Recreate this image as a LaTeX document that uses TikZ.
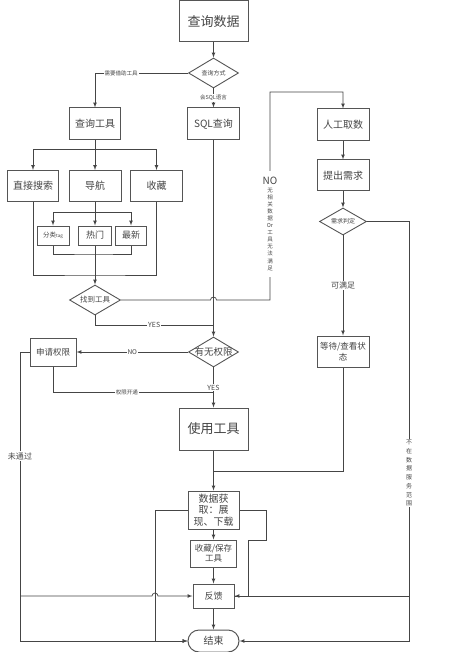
\documentclass[tikz,border=0pt]{standalone}
\usepackage{fontspec}
\setmainfont{Noto Sans CJK SC}
\usepackage{tikz}
\usetikzlibrary{shapes.geometric}
\usetikzlibrary{arrows}
\usetikzlibrary{calc}
\definecolor{ink}{HTML}{454545}
\definecolor{rim}{HTML}{555555}
\newcommand{\fsz}[1]{\fontsize{#1}{#1}\selectfont}
\tikzstyle{every node}=[text=ink]
\tikzstyle{box}=[draw=rim, line width=1pt, fill=white, inner sep=0pt, align=center]
\tikzstyle{choice}=[diamond, aspect=1.7, draw=rim, line width=0.9pt, fill=white, inner sep=-6pt, align=center]
\tikzstyle{line}=[draw=ink, line width=0.7pt]
\tikzstyle{lab}=[fill=white, inner sep=1pt, font=\fsz{5.5}]

\begin{document}
\begin{tikzpicture}[>=latex, x=1pt, y=-1pt]
            \useasboundingbox (0,0) rectangle (460,652);

            \node [box, minimum width=69, minimum height=41, font=\fsz{13}] (shuju) at (213.5,21.5) {查询数据};
            \node [choice, minimum width=50, minimum height=30, font=\fsz{6}] (fangshi) at (213.5,73) {查询方式};
            \node [box, minimum width=51, minimum height=32, font=\fsz{10}] (gongju) at (95,124) {查询工具};
            \node [box, minimum width=52, minimum height=32, font=\fsz{10}] (sql) at (213.5,124) {SQL查询};
            \node [box, minimum width=52, minimum height=32, font=\fsz{10}] (rengong) at (343,125) {人工取数};

            \node [box, minimum width=51, minimum height=31, font=\fsz{10}] (sousuo) at (33,186) {直接搜索};
            \node [box, minimum width=52, minimum height=31, font=\fsz{10}] (daohang) at (95,186) {导航};
            \node [box, minimum width=52, minimum height=31, font=\fsz{10}] (shoucang) at (156.5,186) {收藏};

            \node [box, minimum width=32, minimum height=19, font=\fsz{6.5}] (fenlei) at (53,235.5) {分类{\fsz{4.5}tag}};
            \node [box, minimum width=33, minimum height=19, font=\fsz{9}] (remen) at (95,235.5) {热门};
            \node [box, minimum width=31, minimum height=19, font=\fsz{9}] (zuixin) at (131,235.5) {最新};

            \node [choice, minimum width=51, minimum height=30, font=\fsz{7.5}] (zhaodao) at (95,300) {找到工具};

            \node [box, minimum width=52, minimum height=31, font=\fsz{10}] (xuqiu) at (343,175.5) {提出需求};
            \node [choice, minimum width=47, minimum height=27, font=\fsz{6}] (panding) at (343,221.5) {需求判定};
            \node [box, minimum width=52, minimum height=31, font=\fontsize{8.5}{11}\selectfont] (dengdai) at (343,351.5) {等待/查看状\\态};

            \node [choice, minimum width=50, minimum height=30, font=\fsz{9.5}] (quanxian) at (213.5,352) {有无权限};
            \node [box, minimum width=46, minimum height=28, font=\fsz{8.5}] (shenqing) at (53,352) {申请权限};

            \node [box, minimum width=69, minimum height=42, font=\fsz{13}] (shiyong) at (213.5,429) {使用工具};
            \node [box, minimum width=51, minimum height=38, font=\fontsize{10}{11.5}\selectfont] (huoqu) at (213.5,510) {数据获\\取：展\\现、下载};
            \node [box, minimum width=46, minimum height=27, font=\fontsize{8.5}{10.5}\selectfont] (baocun) at (213.5,553.5) {收藏/保存\\工具};
            \node [box, minimum width=41, minimum height=24, font=\fsz{9}] (fankui) at (213.5,596) {反馈};
            \node [box, minimum width=51, minimum height=22, rounded corners=11, font=\fsz{10}] (jieshu) at (213.5,641) {结束};

            \coordinate (fork1) at (95,149);
            \coordinate (fork2) at (95,212);
            \coordinate (join2) at (95,254);
            \coordinate (join1) at (95,275);
            \coordinate (noturn) at (270,92);
            \coordinate (yesjoin) at (213.5,325);
            \coordinate (pass) at (213.5,392);
            \coordinate (leftrail) at (20,352);
            \coordinate (rightrail) at (409,221.5);
            \coordinate (merge) at (213.5,471);
            \coordinate (lrail2) at (155,510);
            \coordinate (rloop) at (266,510);

            \draw [line, ->] (shuju) -- (fangshi);
            \draw [line, ->] (fangshi.west) -| node[lab, pos=0.36] {需要借助工具} (gongju.north);
            \draw [line, ->] (fangshi.south) -- node[lab] {会SQL语言} (sql.north);

            \draw [line] (gongju.south) -- (fork1);
            \draw [line, ->] (fork1) -| (sousuo.north);
            \draw [line, ->] (fork1) -| (shoucang.north);
            \draw [line, ->] (fork1) -- (daohang.north);
            \draw [line] (daohang.south) -- (fork2);
            \draw [line, ->] (fork2) -| (fenlei.north);
            \draw [line, ->] (fork2) -| (zuixin.north);
            \draw [line, ->] (fork2) -- (remen.north);
            \draw [line] (fenlei.south) |- (join2) -| (zuixin.south);
            \draw [line] (sousuo.south) |- (join1) -| (shoucang.south);
            \draw [line, ->] (remen.south) -- (zhaodao.north);

            \draw [line, ->] (zhaodao.east) -- ($(yesjoin |- zhaodao.east)+(-3,0)$) arc[start angle=180, end angle=360, radius=3] -- (noturn |- zhaodao.east) -- (noturn) -| (rengong.north);
            \node [lab, align=center, inner ysep=6pt, font=\fontsize{5.5}{7.1}\selectfont] (nolab) at (270,224) {{\fsz{10}NO}\\无\\相\\关\\数\\据\\Or\\工\\具\\无\\法\\满\\足};
            \draw [line] (zhaodao.south) |- node[lab, pos=0.75, font=\fsz{7}] {YES} (yesjoin);

            \draw [line, ->] (sql.south) -- (quanxian.north);
            \draw [line, ->] (quanxian.west) -- node[lab, font=\fsz{6.5}] {NO} (shenqing.east);
            \draw [line] (shenqing.south) |- node[lab, pos=0.73] {权限开通} (pass);
            \draw [line, ->] (quanxian.south) -- node[lab, font=\fsz{7}] {YES} (shiyong.north);

            \draw [line, ->] (shenqing.west) -- (leftrail) |- node[lab, pos=0.18, font=\fsz{8}] {未通过} (jieshu.west);
            \draw [line, ->] (leftrail |- fankui.west) -- ($(lrail2 |- fankui.west)+(-3,0)$) arc[start angle=180, end angle=360, radius=3] -- (fankui.west);

            \draw [line, ->] (rengong) -- (xuqiu);
            \draw [line, ->] (xuqiu) -- (panding);
            \draw [line, ->] (panding.south) -- node[lab, font=\fsz{8}] {可满足} (dengdai.north);
            \draw [line] (dengdai.south) |- (merge);
            \draw [line, ->] (panding.east) -- (rightrail) |- node[lab, pos=0.3, align=center, font=\fontsize{6}{8.7}\selectfont] {不\\在\\数\\据\\服\\务\\范\\围} (jieshu.east);
            \draw [line, ->] (rightrail |- fankui.east) -- (fankui.east);

            \draw [line, ->] (shiyong) -- (huoqu);
            \draw [line, ->] (huoqu) -- (baocun);
            \draw [line, ->] (baocun) -- (fankui);
            \draw [line, ->] (fankui) -- (jieshu);
            \draw [line, ->] (huoqu.west) -- (lrail2) |- (jieshu.west);
            \draw [line] (huoqu.east) -- (rloop) -- ++(0,30) -- ++(-18,0) |- (fankui.east);
        \end{tikzpicture}
\end{document}
